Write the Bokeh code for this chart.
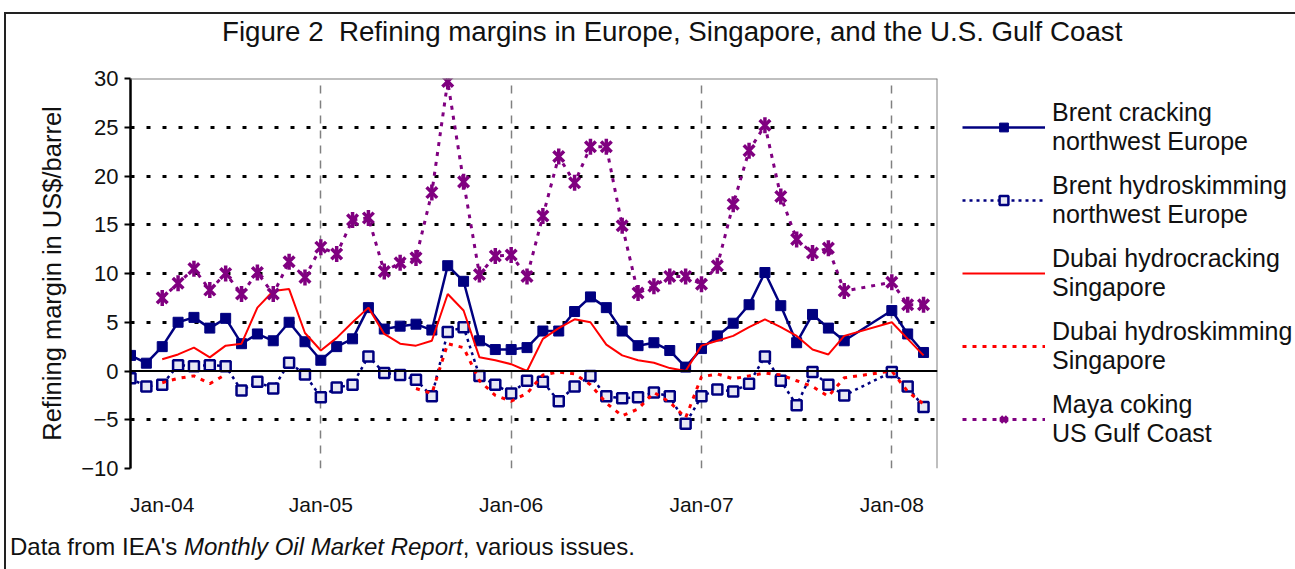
import math
from bokeh.plotting import figure
from bokeh.layouts import column
from bokeh.models import (Range1d, FixedTicker, Span, Legend, LegendItem, Div)
from bokeh.embed import file_html
from bokeh.resources import INLINE

NaN = float("nan")

# month index counted from Jan-04 (Nov-07 and Dec-07 not reported)
months = list(range(0, 46)) + [48, 49, 50]

brent_cracking = [1.6, 0.8, 2.5, 5.0, 5.5, 4.4, 5.4, 2.8, 3.8, 3.1, 5.0, 3.0,
                  1.1, 2.5, 3.3, 6.5, 4.3, 4.6, 4.8, 4.2, 10.8, 9.2, 3.1, 2.2,
                  2.2, 2.4, 4.1, 4.1, 6.1, 7.6, 6.5, 4.1, 2.6, 2.9, 2.1, 0.4,
                  2.3, 3.6, 4.9, 6.8, 10.1, 6.7, 2.9, 5.8, 4.4, 3.1,
                  6.2, 3.8, 1.9]

brent_hydroskimming = [-0.75, -1.6, -1.4, 0.6, 0.5, 0.6, 0.5, -2.0, -1.1, -1.8, 0.85, -0.35,
                       -2.7, -1.7, -1.4, 1.5, -0.2, -0.4, -0.9, -2.6, 4.0, 4.5, -0.5, -1.4,
                       -2.3, -1.0, -1.1, -3.1, -1.6, -0.5, -2.6, -2.8, -2.7, -2.2, -2.6, -5.4,
                       -2.6, -1.9, -2.1, -1.3, 1.5, -1.0, -3.5, -0.1, -1.4, -2.5,
                       -0.1, -1.6, -3.7]

dubai_hydrocracking = [NaN, NaN, 1.2, 1.7, 2.4, 1.4, 2.6, 2.8, 6.5, 8.2, 8.4, 3.9,
                       2.1, 3.4, 5.0, 6.5, 3.8, 2.8, 2.6, 3.1, 7.9, 6.2, 1.4, 1.1,
                       0.7, 0.0, 3.3, 4.4, 5.3, 5.0, 2.7, 1.6, 1.1, 0.85, 0.3, 0.0,
                       2.6, 3.1, 3.6, 4.5, 5.3, 4.5, 3.6, 2.2, 1.7, 3.6,
                       5.0, 3.3, 1.6]

dubai_hydroskimming = [NaN, NaN, -1.2, -0.75, -0.5, -1.3, -0.35, NaN, NaN, NaN, NaN, NaN,
                       NaN, NaN, NaN, NaN, NaN, NaN, -1.8, -2.3, 2.8, 2.4, -1.0, -2.5,
                       -3.1, -2.3, -0.4, -0.1, -0.3, -1.4, -3.3, -4.6, -3.9, -2.2, -3.2, -4.8,
                       -0.6, -0.3, -0.8, -0.5, -0.2, -0.4, -1.0, -1.6, -2.6, -0.7,
                       0.0, -2.1, -3.4]

maya_coking = [NaN, NaN, 7.5, 9.0, 10.5, 8.3, 10.0, 7.9, 10.1, 7.9, 11.2, 9.6,
               12.7, 12.0, 15.5, 15.7, 10.2, 11.1, 11.6, 18.3, 29.7, 19.4, 9.9, 11.8,
               11.9, 9.7, 15.9, 22.0, 19.3, 23.0, 23.0, 14.9, 8.0, 8.7, 9.7, 9.7,
               8.9, 10.8, 17.1, 22.6, 25.2, 17.9, 13.5, 12.1, 12.6, 8.2,
               9.1, 6.8, 6.8]

series_names = ["Brent cracking\nnorthwest Europe",
                "Brent hydroskimming\nnorthwest Europe",
                "Dubai hydrocracking\nSingapore",
                "Dubai hydroskimming\nSingapore",
                "Maya coking\nUS Gulf Coast"]

x_tick_positions = [2, 12, 24, 36, 48]
x_tick_labels = ["Jan-04", "Jan-05", "Jan-06", "Jan-07", "Jan-08"]
year_lines = [12, 24, 36, 48]
y_ticks = [-10, -5, 0, 5, 10, 15, 20, 25, 30]
y_grid = [-10, -5, 5, 10, 15, 20, 25]

NAVY = "#000080"
RED = "#FF0000"
PURPLE = "#800080"
FONT = "Liberation Sans"
TXT = "#111111"

head = Div(text="Figure 2&nbsp; Refining margins in Europe, Singapore, and the U.S. Gulf Coast",
           width=1289, height=38, margin=0,
           styles={"font-family": "Liberation Sans", "font-size": "27.7px", "color": TXT,
                   "padding-left": "216px", "padding-top": "0px", "line-height": "36px",
                   "white-space": "nowrap"})

p = figure(frame_width=807, frame_height=390, output_backend="svg", toolbar_location=None,
           x_range=Range1d(0, 50.88), y_range=Range1d(-10, 30),
           min_border_left=124, min_border_top=26, min_border_right=358, min_border_bottom=62)
p.background_fill_color = "white"
p.border_fill_color = "white"
p.outline_line_color = None
p.title.text = ""
p.title.text_font_size = "0px"
p.title.standoff = 0

# grids
p.xgrid.ticker = FixedTicker(ticks=year_lines)
p.xgrid.grid_line_color = "#808080"
p.xgrid.grid_line_dash = "8 7"
p.xgrid.grid_line_width = 1.5
p.ygrid.ticker = FixedTicker(ticks=y_grid)
p.ygrid.grid_line_color = "black"
p.ygrid.grid_line_dash = "4 12"
p.ygrid.grid_line_width = 3

# axes
xa = p.xaxis[0]
xa.ticker = FixedTicker(ticks=x_tick_positions)
xa.major_label_overrides = {k: v for k, v in zip(x_tick_positions, x_tick_labels)}
xa.axis_line_color = None
xa.major_tick_line_color = None
xa.minor_tick_line_color = None
xa.major_tick_out = 0
xa.major_tick_in = 0
xa.major_label_standoff = 24
xa.major_label_text_font = FONT
xa.major_label_text_font_size = "21px"
xa.major_label_text_color = TXT

ya = p.yaxis[0]
ya.ticker = FixedTicker(ticks=y_ticks)
ya.axis_line_color = "black"
ya.axis_line_width = 2.5
ya.major_tick_line_color = "black"
ya.major_tick_line_width = 2
ya.major_tick_out = 6
ya.major_tick_in = 0
ya.minor_tick_line_color = None
ya.major_label_standoff = 6
ya.major_label_text_font = FONT
ya.major_label_text_font_size = "22px"
ya.major_label_text_color = TXT
ya.axis_label = "Refining margin in US$/barrel"
ya.axis_label_text_font = FONT
ya.axis_label_text_font_style = "normal"
ya.axis_label_text_font_size = "25.5px"
ya.axis_label_text_color = TXT
ya.axis_label_standoff = 12

# frame borders (top, right) and zero line
p.add_layout(Span(location=30, dimension="width", line_color="#808080", line_width=2))
p.add_layout(Span(location=50.88, dimension="height", line_color="#808080", line_width=2))
p.add_layout(Span(location=0, dimension="width", line_color="black", line_width=2))

# series
r1l = p.line(months, brent_cracking, line_color=NAVY, line_width=2.5)
r1m = p.scatter(months, brent_cracking, marker="square", size=10, fill_color=NAVY, line_color=NAVY)

r2l = p.line(months, brent_hydroskimming, line_color=NAVY, line_width=2.5, line_dash="3 4")
r2m = p.scatter(months, brent_hydroskimming, marker="square", size=10, fill_color="#e8e8f4",
                line_color=NAVY, line_width=2.5)

r3l = p.line(months, dubai_hydrocracking, line_color=RED, line_width=2)

r4l = p.line(months, dubai_hydroskimming, line_color=RED, line_width=3, line_dash="4 6")

r5l = p.line(months, maya_coking, line_color=PURPLE, line_width=3, line_dash="4 6")
r5a = p.scatter(months, maya_coking, marker="x", size=15, line_color=PURPLE, line_width=3.5)
r5b = p.scatter(months, maya_coking, marker="dash", angle=math.pi / 2, size=16,
                line_color=PURPLE, line_width=3.5)

renderer_sets = [[r1l, r1m], [r2l, r2m], [r3l], [r4l], [r5l, r5a, r5b]]
legend = Legend(items=[LegendItem(label=name, renderers=rs)
                       for name, rs in zip(series_names, renderer_sets)],
                location=(25, 20))
legend.glyph_width = 83
legend.glyph_height = 22
legend.label_standoff = 7
legend.spacing = 15
legend.padding = 0
legend.margin = 0
legend.border_line_color = None
legend.background_fill_alpha = 0
legend.label_text_font = FONT
legend.label_text_font_size = "25px"
legend.label_text_color = TXT
p.add_layout(legend, "right")

note = Div(text="Data from IEA's <i>Monthly Oil Market Report</i>, various issues.",
           width=1289, height=39, margin=0,
           styles={"font-family": "Liberation Sans", "font-size": "24px", "color": TXT,
                   "padding-left": "4px", "padding-top": "3px", "line-height": "28px"})

layout = column(head, p, note, spacing=0,
                styles={"margin-left": "4px", "margin-top": "12px",
                        "border-left": "2px solid #222222", "border-top": "2px solid #222222"})

open("out.html", "w").write(file_html(layout, INLINE))
